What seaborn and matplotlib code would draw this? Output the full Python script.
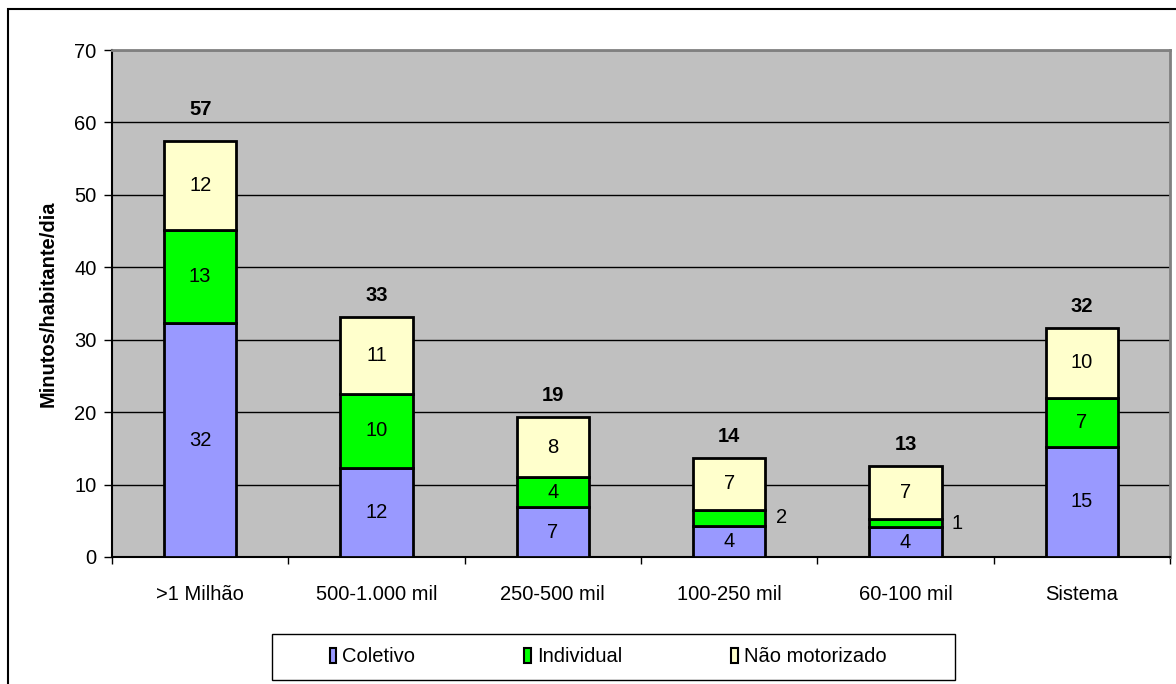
import matplotlib
matplotlib.use("Agg")
import matplotlib.pyplot as plt
from matplotlib.patches import Rectangle, Patch
import numpy as np
import pandas as pd
import seaborn as sns

# Tempo de deslocamento por porte de município (minutos/habitante/dia)
categorias = [">1 Milhão", "500-1.000 mil", "250-500 mil", "100-250 mil", "60-100 mil", "Sistema"]
coletivo = [32.3, 12.3, 6.9, 4.3, 4.1, 15.2]
individual = [12.8, 10.2, 4.1, 2.2, 1.1, 6.8]
nao_motorizado = [12.3, 10.6, 8.3, 7.2, 7.4, 9.6]

series = ["Coletivo", "Individual", "Não motorizado"]
cores = ["#9999FF", "#00FF00", "#FFFFCC"]

df = pd.DataFrame({
    "categoria": categorias,
    "Coletivo": coletivo,
    "Individual": individual,
    "Não motorizado": nao_motorizado,
})

sns.set_theme(style="white")
plt.rcParams["font.family"] = ["Liberation Sans", "DejaVu Sans"]
plt.rcParams.update({"text.color": "black", "axes.labelcolor": "black",
                     "xtick.color": "black", "ytick.color": "black"})

FS = 14.5
W, H = 1176, 684
fig = plt.figure(figsize=(W / 100, H / 100), dpi=100)
ax = fig.add_axes([112 / W, 1 - 557 / H, (1170 - 112) / W, (557 - 50) / H])
ax.set_facecolor("#C0C0C0")

# Barras empilhadas
base = np.zeros(len(categorias))
for nome, cor in zip(series, cores):
    vals = df[nome].to_numpy()
    sns.barplot(x="categoria", y=nome, data=df, ax=ax, color=cor, bottom=base,
                width=0.41, edgecolor="black", linewidth=2, saturation=1,
                zorder=3, errorbar=None)
    for i, (b, v) in enumerate(zip(base, vals)):
        # segmentos baixos recebem o rótulo ao lado da barra
        x = i if v >= 3 else i + 0.295
        ax.text(x, b + v / 2, f"{v:.0f}", ha="center", va="center",
                fontsize=FS, zorder=4)
    base = base + vals

# Totais acima das barras
for i, t in enumerate(base):
    dy = 23 if i == 0 else 15.5
    ax.annotate(f"{t:.0f}", (i, t), xytext=(0, dy), textcoords="offset points",
                ha="center", va="center", fontsize=FS, fontweight="bold")

ax.set_ylim(0, 70)
ax.set_xlim(-0.5, len(categorias) - 0.5)
ax.set_yticks(np.arange(0, 71, 10))
ax.yaxis.grid(True, color="black", linewidth=1)
ax.set_axisbelow(True)
ax.tick_params(axis="y", which="major", left=True, length=6, width=1,
               labelsize=FS, pad=5)
ax.tick_params(axis="x", which="major", length=0, labelsize=FS, pad=20)
ax.set_xticks(np.arange(-0.5, len(categorias), 1), minor=True)
ax.tick_params(axis="x", which="minor", bottom=True, length=5, width=1)
ax.set_xlabel("")
ax.set_ylabel("Minutos/habitante/dia", fontsize=FS, fontweight="bold", labelpad=12)

for side in ["left", "bottom"]:
    ax.spines[side].set_color("black")
    ax.spines[side].set_linewidth(1.5)
for side in ["top", "right"]:
    ax.spines[side].set_visible(True)
    ax.spines[side].set_color("#808080")
    ax.spines[side].set_linewidth(2)

# Legenda (moldura desenhada à parte)
fig.patches.append(Rectangle((272 / W, 1 - 680 / H), (955 - 272) / W, (680 - 634) / H,
                             transform=fig.transFigure, fill=False,
                             edgecolor="black", linewidth=1))
handles = [Patch(facecolor=c, edgecolor="black", linewidth=1.5) for c in cores]
fig.legend(handles, series, loc="center", ncol=3,
           bbox_to_anchor=(608 / W, 1 - 657 / H),
           frameon=False, fontsize=FS, handlelength=0.33, handleheight=0.75,
           handletextpad=0.3, columnspacing=5.4, borderpad=0, borderaxespad=0)

# Moldura externa
fig.patches.append(Rectangle((8 / W, -0.05), 1.2, 1 - 9 / H + 0.05,
                             transform=fig.transFigure, fill=False,
                             edgecolor="black", linewidth=1.5))

fig.savefig("out.png", dpi=100, facecolor="white")
